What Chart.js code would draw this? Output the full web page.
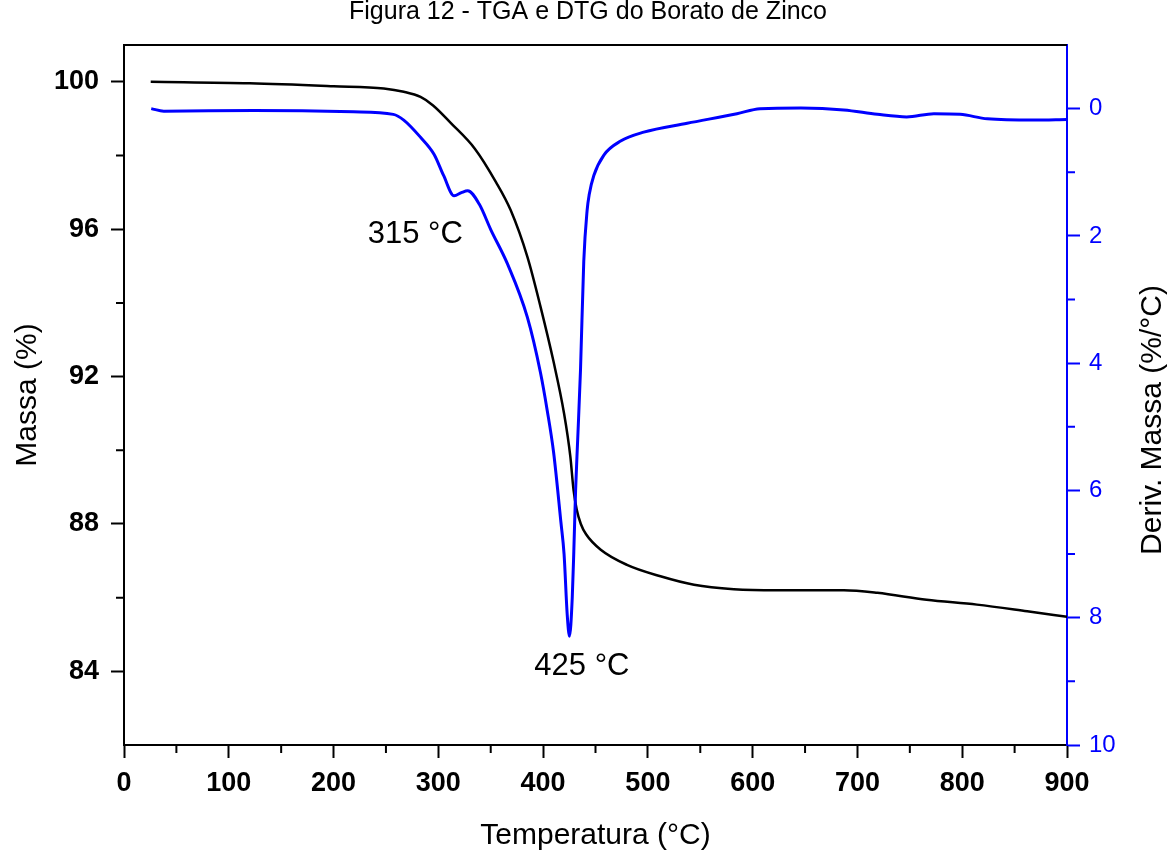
<!DOCTYPE html>
<html>
<head>
<meta charset="utf-8">
<title>Figura 12 - TGA e DTG do Borato de Zinco</title>
<script src="https://cdn.jsdelivr.net/npm/chart.js@4.4.1/dist/chart.umd.min.js"></script>
<style>
  body { margin: 0; background: #fff; }
  #wrap { width: 1176px; height: 854px; }
</style>
</head>
<body>
<div id="wrap"><canvas id="chart" width="1176" height="854"></canvas></div>
<script>
// TGA curve (black, left axis)
const tgaTemp = [25.5, 120, 200, 248, 267, 283, 295, 312, 335, 355, 369, 385, 397.5, 410, 420, 426, 429, 432, 436, 441, 455, 480, 512, 544, 582, 623, 687, 719, 766, 814, 862, 900];
const tgaMass = [100.0, 99.96, 99.88, 99.82, 99.73, 99.59, 99.36, 98.88, 98.18, 97.28, 96.52, 95.25, 93.9, 92.4, 91.0, 89.83, 88.93, 88.4, 88.0, 87.72, 87.3, 86.89, 86.58, 86.35, 86.23, 86.2, 86.2, 86.13, 85.94, 85.81, 85.63, 85.48];

// DTG curve (blue, right axis)
const dtgTemp = [26, 38, 124, 219, 257, 267, 283, 296, 305, 315, 322, 328, 339, 350, 366, 385, 397.5, 404, 410, 417, 420, 423, 425.2, 427.8, 429.3, 431, 433, 435.7, 438.8, 442, 444, 448.4, 458, 474, 496, 537.5, 585, 607, 646, 687, 719, 747, 773, 798, 824, 868, 900];
const dtgDeriv = [0.0, 0.04, 0.03, 0.05, 0.09, 0.18, 0.45, 0.72, 1.05, 1.37, 1.32, 1.29, 1.5, 1.9, 2.44, 3.28, 4.15, 4.75, 5.4, 6.5, 7.0, 7.95, 8.29, 7.69, 6.96, 6.0, 5.2, 4.1, 2.4, 1.6, 1.35, 1.05, 0.73, 0.51, 0.37, 0.23, 0.08, 0.0, -0.01, 0.02, 0.09, 0.13, 0.08, 0.09, 0.16, 0.18, 0.17];

const tempTicks = [0, 100, 200, 300, 400, 500, 600, 700, 800, 900];
const massTicks = [84, 88, 92, 96, 100];
const derivTicks = [0, 2, 4, 6, 8, 10];
const tempMinor = [50, 150, 250, 350, 450, 550, 650, 750, 850];
const massMinor = [86, 90, 94, 98];
const derivMinor = [1, 3, 5, 7, 9];

const peakLabels = [
  { text: '315 °C', x: 278, y: 95.87 },
  { text: '425 °C', x: 437, y: 84.13 }
];

const FONT = "'Liberation Sans', Arial, sans-serif";
const BLUE = '#0000ff';

function toPoints(xs, ys) {
  return xs.map((x, i) => ({ x, y: ys[i] }));
}

// minor ticks, top frame line, right axis title, peak labels
const extras = {
  id: 'extras',
  afterDraw(chart) {
    const ctx = chart.ctx;
    const { x, y, y2 } = chart.scales;
    const area = chart.chartArea;
    ctx.save();
    ctx.lineWidth = 2;

    ctx.strokeStyle = '#000';
    ctx.beginPath();
    ctx.moveTo(area.left, area.top);
    ctx.lineTo(area.right, area.top);
    tempMinor.forEach(v => {
      const p = x.getPixelForValue(v);
      ctx.moveTo(p, x.top);
      ctx.lineTo(p, x.top + 8);
    });
    massMinor.forEach(v => {
      const p = y.getPixelForValue(v);
      ctx.moveTo(y.right, p);
      ctx.lineTo(y.right - 8, p);
    });
    ctx.stroke();

    ctx.strokeStyle = BLUE;
    ctx.beginPath();
    derivMinor.forEach(v => {
      const p = y2.getPixelForValue(v);
      ctx.moveTo(y2.left, p);
      ctx.lineTo(y2.left + 8, p);
    });
    ctx.stroke();

    ctx.fillStyle = '#000';
    ctx.textAlign = 'center';
    ctx.textBaseline = 'middle';
    ctx.font = '31px ' + FONT;
    peakLabels.forEach(l => {
      ctx.fillText(l.text, x.getPixelForValue(l.x), y.getPixelForValue(l.y));
    });

    ctx.font = '30px ' + FONT;
    ctx.translate(y2.right - 23, 420);
    ctx.rotate(-Math.PI / 2);
    ctx.fillText('Deriv. Massa (%/°C)', 0, 0);
    ctx.restore();
  }
};

function renderChart() {
  const ctx = document.getElementById('chart').getContext('2d');
  new Chart(ctx, {
    type: 'line',
    data: {
      datasets: [
        {
          label: 'DTG',
          data: toPoints(dtgTemp, dtgDeriv),
          yAxisID: 'y2',
          borderColor: BLUE,
          borderWidth: 3,
          pointRadius: 0,
          cubicInterpolationMode: 'monotone'
        },
        {
          label: 'TGA',
          data: toPoints(tgaTemp, tgaMass),
          yAxisID: 'y',
          borderColor: '#000',
          borderWidth: 2.5,
          pointRadius: 0,
          cubicInterpolationMode: 'monotone'
        }
      ]
    },
    options: {
      responsive: false,
      animation: false,
      layout: { padding: 0 },
      plugins: {
        legend: { display: false },
        tooltip: { enabled: false },
        title: {
          display: true,
          text: 'Figura 12 - TGA e DTG do Borato de Zinco',
          color: '#000',
          font: { family: FONT, size: 25, weight: 'normal', lineHeight: 1 },
          padding: { top: 0, bottom: 20 }
        }
      },
      scales: {
        x: {
          type: 'linear',
          min: 0,
          max: 900,
          afterBuildTicks: s => { s.ticks = tempTicks.map(v => ({ value: v })); },
          afterFit: s => { s.height = 109; },
          ticks: { color: '#000', padding: 9, maxRotation: 0, font: { family: FONT, size: 27, weight: 'bold' } },
          grid: { drawOnChartArea: false, tickLength: 13, tickWidth: 2, tickColor: '#000' },
          border: { color: '#000', width: 2 },
          title: {
            display: true,
            text: 'Temperatura (°C)',
            color: '#000',
            font: { family: FONT, size: 30 },
            padding: { top: 0, bottom: 0 }
          }
        },
        y: {
          position: 'left',
          min: 82,
          max: 101,
          afterBuildTicks: s => { s.ticks = massTicks.map(v => ({ value: v })); },
          afterFit: s => { s.width = 124; },
          ticks: { color: '#000', padding: 12, font: { family: FONT, size: 27, weight: 'bold' } },
          grid: { drawOnChartArea: false, tickLength: 13, tickWidth: 2, tickColor: '#000' },
          border: { color: '#000', width: 2 },
          title: {
            display: true,
            text: 'Massa (%)',
            color: '#000',
            font: { family: FONT, size: 30 },
            padding: { top: 10, bottom: 0 }
          }
        },
        y2: {
          position: 'right',
          reverse: true,
          min: -1,
          max: 10,
          afterBuildTicks: s => { s.ticks = derivTicks.map(v => ({ value: v })); },
          afterFit: s => { s.width = 109; },
          ticks: { color: BLUE, padding: 9, font: { family: FONT, size: 24 } },
          grid: { drawOnChartArea: false, tickLength: 13, tickWidth: 2, tickColor: BLUE },
          border: { color: BLUE, width: 2 }
        }
      }
    },
    plugins: [extras]
  });
}

document.addEventListener('DOMContentLoaded', renderChart);
</script>
</body>
</html>
